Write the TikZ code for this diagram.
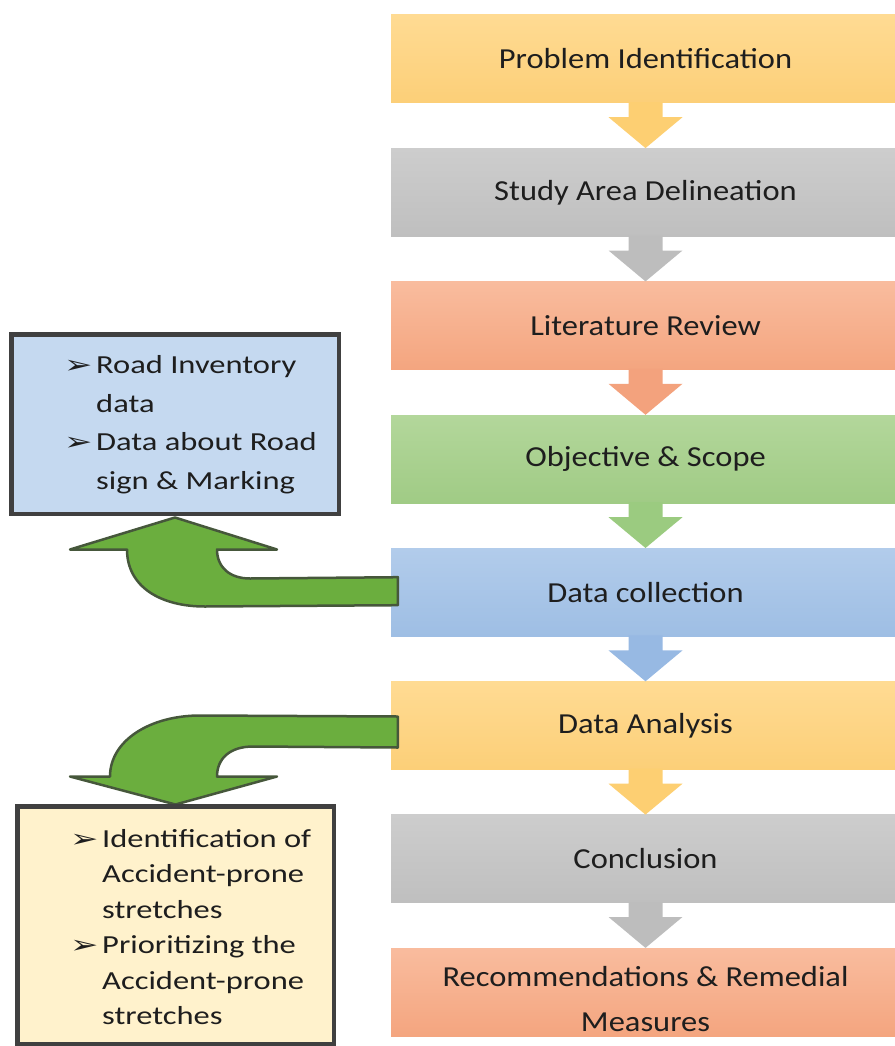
\documentclass[tikz,border=0pt]{standalone}
\usepackage{fontspec}
\usepackage{graphicx}
\setmainfont{Carlito}[FakeStretch=1.12]
\newfontfamily\sidefont{Carlito}[FakeStretch=1.25]
\newfontfamily\dingfont{DejaVu Sans}
\usetikzlibrary{calc}

% stage colours (top / bottom of the gentle vertical gradient) and link colours
\definecolor{yelT}{HTML}{FFDB93}\definecolor{yelB}{HTML}{FCCF78}\definecolor{yelL}{HTML}{FDCF72}
\definecolor{grayT}{HTML}{CDCDCD}\definecolor{grayB}{HTML}{BFBFBF}\definecolor{grayL}{HTML}{BDBDBD}
\definecolor{salT}{HTML}{F9BC9E}\definecolor{salB}{HTML}{F4A57F}\definecolor{salL}{HTML}{F3A27D}
\definecolor{grnT}{HTML}{B3D79B}\definecolor{grnB}{HTML}{A0CB85}\definecolor{grnL}{HTML}{9BCB80}
\definecolor{bluT}{HTML}{B2CCEB}\definecolor{bluB}{HTML}{9EBEE4}\definecolor{bluL}{HTML}{97B9E3}
\definecolor{ink}{HTML}{1E1E1E}
\definecolor{sideblue}{HTML}{C5D9F0}
\definecolor{sideyellow}{HTML}{FFF2CC}
\definecolor{frame}{HTML}{404040}
\definecolor{bendfill}{HTML}{6BAE3E}
\definecolor{bendline}{HTML}{46573B}

\newcommand\bul{\makebox[32pt][l]{\dingfont\fontsize{25}{25}\selectfont\scalebox{1.35}[1]{➢}}}
\newcommand\ind{\makebox[32pt][l]{}}

% block arrow from the bottom of one stage to the top of the next
\newcommand\stagelink[3]{%
  \fill[#3] ($(#1.south)+(-17,-1)$) -- ($(#1.south)+(-17,14)$) -- ($(#1.south)+(-37,14)$)
    -- (#2.north) -- ($(#1.south)+(37,14)$) -- ($(#1.south)+(17,14)$)
    -- ($(#1.south)+(17,-1)$) -- cycle;}

\begin{document}
\begin{tikzpicture}[x=1pt,y=-1pt,
  stage/.style={minimum width=509pt, minimum height=88pt, inner sep=0pt,
    text=ink, font=\fontsize{29}{45}\selectfont, align=center},
  sidebox/.style={draw=frame, line width=3pt, inner sep=0pt},
  sidetext/.style={inner sep=0pt, text=ink, anchor=west},
  bendarrow/.style={fill=bendfill, draw=bendline, line width=2.5pt, line join=round}]
\useasboundingbox (0,0) rectangle (894,1046);

% main sequence of stages
\node[stage, top color=yelT, bottom color=yelB]   (b1) at (645.5,59)    {Problem Identification};
\node[stage, top color=grayT, bottom color=grayB] (b2) at (645.5,192.3) {Study Area Delineation};
\node[stage, top color=salT, bottom color=salB]   (b3) at (645.5,325.6) {Literature Review};
\node[stage, top color=grnT, bottom color=grnB]   (b4) at (645.5,459)   {Objective \& Scope};
\node[stage, top color=bluT, bottom color=bluB]   (b5) at (645.5,592.2) {Data collection};
\node[stage, top color=yelT, bottom color=yelB]   (b6) at (645.5,725.5) {Data Analysis};
\node[stage, top color=grayT, bottom color=grayB] (b7) at (645.5,858.8) {Conclusion};
\node[stage, top color=salT, bottom color=salB]   (b8) at (645.5,992.1)
  {\rule{0pt}{34pt}Recommendations \& Remedial\\Measures};

\stagelink{b1}{b2}{yelL}
\stagelink{b2}{b3}{grayL}
\stagelink{b3}{b4}{salL}
\stagelink{b4}{b5}{grnL}
\stagelink{b5}{b6}{bluL}
\stagelink{b6}{b7}{yelL}
\stagelink{b7}{b8}{grayL}

% side boxes
\node[sidebox, fill=sideblue, minimum width=326pt, minimum height=178pt] (inv) at (175,424) {};
\node[sidebox, fill=sideyellow, minimum width=315pt, minimum height=236pt] (acc) at (175.5,925) {};

% curved arrow from data collection up to the inventory box
\draw[bendarrow] ($(b5.west)+(7,-15)$) -- ($(inv.south)+(75,64)$)
  .. controls ($(inv.south)+(55,64)$) and ($(inv.south)+(42,53)$) .. ($(inv.south)+(42,35)$)
  -- ($(inv.south)+(102,35)$) -- ($(inv.south)+(0,3)$) -- ($(inv.south)+(-105,35)$)
  -- ($(inv.south)+(-48,35)$)
  .. controls ($(inv.south)+(-48,72)$) and ($(inv.south)+(-15,92)$) .. ($(inv.south)+(30,92)$)
  -- ($(b5.west)+(7,13)$) -- cycle;

% curved arrow from data analysis down to the accident-prone box
\draw[bendarrow] ($(b6.west)+(7,-9)$) -- ($(acc.north)+(24.5,-90)$)
  .. controls ($(acc.north)+(-25.5,-90)$) and ($(acc.north)+(-65.5,-65)$) .. ($(acc.north)+(-65.5,-29)$)
  -- ($(acc.north)+(-105.5,-29)$) -- ($(acc.north)+(0,-1)$) -- ($(acc.north)+(101.5,-29)$)
  -- ($(acc.north)+(41.5,-29)$)
  .. controls ($(acc.north)+(41.5,-47)$) and ($(acc.north)+(54.5,-59)$) .. ($(acc.north)+(77.5,-59)$)
  -- ($(b6.west)+(7,22)$) -- cycle;

% redraw the side frames on top of the arrow tips
\draw[frame, line width=3pt] (inv.south west) rectangle (inv.north east);
\draw[frame, line width=3pt] (acc.south west) rectangle (acc.north east);

% side box contents
\node[sidetext, font=\sidefont\fontsize{26}{38.5}\selectfont] (invtext) at (64,424)
  {\begin{tabular}{@{}l@{}}
    \bul Road Inventory\\
    \ind data\\
    \bul Data about Road\\
    \ind sign \& Marking
   \end{tabular}};
\node[sidetext, font=\sidefont\fontsize{26}{35.5}\selectfont] (acctext) at (70,929)
  {\begin{tabular}{@{}l@{}}
    \bul Identification of\\
    \ind Accident-prone\\
    \ind stretches\\
    \bul Prioritizing the\\
    \ind Accident-prone\\
    \ind stretches
   \end{tabular}};
\end{tikzpicture}
\end{document}
